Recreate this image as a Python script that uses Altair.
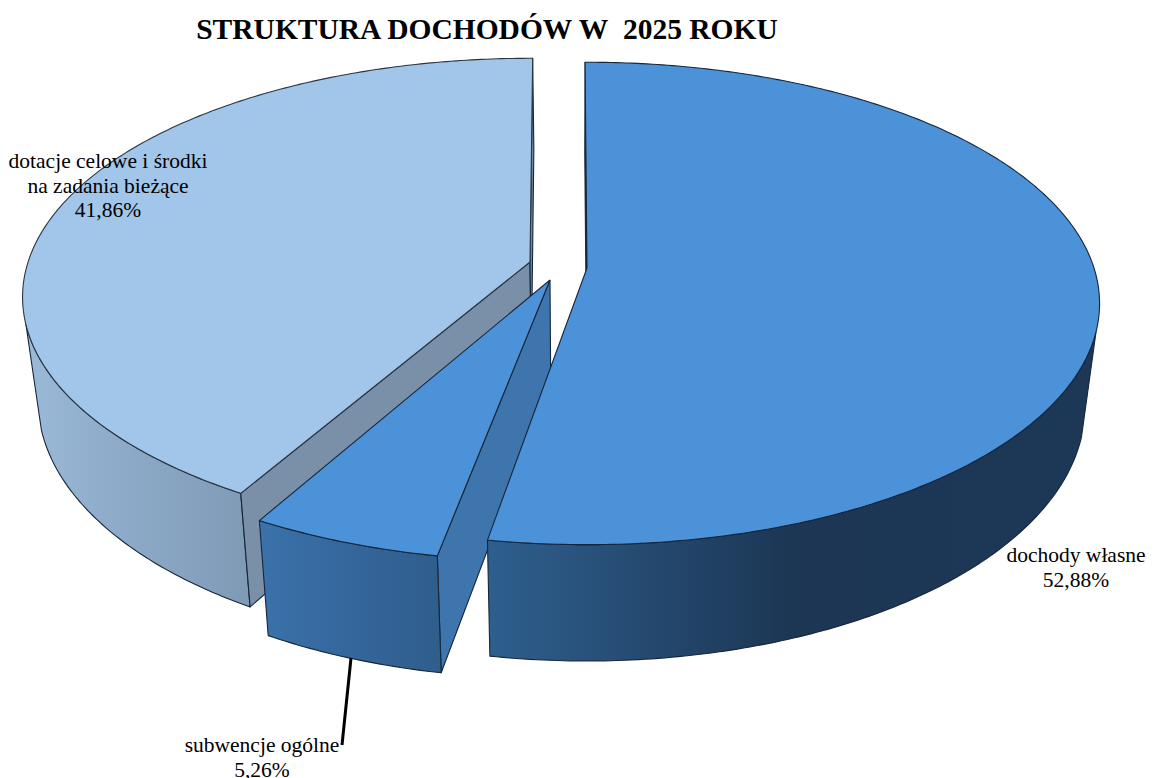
import numpy as np
import pandas as pd
import altair as alt

# data
categories = ["dochody własne", "subwencje ogólne", "dotacje celowe i środki\nna zadania bieżące"]
shares = [52.88, 5.26, 41.86]
share_labels = ["52,88%", "5,26%", "41,86%"]
title_text = "STRUKTURA DOCHODÓW W\u00a0\u00a02025 ROKU"

# view geometry of the tilted disc
A, B, K = 507.0, 236.0, 0.147
SCALE, VX = 0.972, 575.0

cum = np.cumsum([0] + shares) * 3.6
a_main = (cum[0] - 0.25, cum[1] - 0.7)
a_small = (cum[1], cum[2])
a_left = (cum[2] + 0.9, cum[3] + 0.35)


def top(c, a, k=1.0):
    r = np.radians(a)
    u, v = np.sin(r), -np.cos(r)
    s = k / (1 - K * v)
    return c[0] + A * u * s, c[1] + B * v * s


def down(p):
    return VX + (p[0] - VX) * SCALE, p[1] + 88 + 0.052 * p[1]


def arc(c, a0, a1, k=1.0):
    return [top(c, a, k) for a in np.linspace(a0, a1, max(int(abs(a1 - a0) * 1.5), 8))]


def poly(points, fill, stroke="#16263a", sw=1.1):
    pts = list(points) + [points[0]]
    df = pd.DataFrame({"x": [p[0] for p in pts], "y": [p[1] for p in pts], "i": range(len(pts))})
    return alt.Chart(df).mark_line(fill=fill, stroke=stroke, strokeWidth=sw, strokeJoin="round", clip=False).encode(
        x=alt.X("x:Q", scale=alt.Scale(domain=[8, 1146], nice=False, zero=False), axis=None),
        y=alt.Y("y:Q", scale=alt.Scale(domain=[778, 8], nice=False, zero=False), axis=None),
        order=alt.Order("i:Q"),
    )


def grad(stops):
    return alt.Gradient(
        gradient="linear", x1=0, x2=1, y1=0, y2=0,
        stops=[alt.GradientStop(offset=o, color=c) for o, c in stops],
    )


def wall(c, a0, a1, k=1.0):
    t = arc(c, a0, a1, k)
    b = [down(p) for p in t]
    return t + b[::-1]


c_main = (587.0, 268.0)
c_left = (530.0, 262.0)
c_small = (544.0, 284.5)
apex_small = (550.0, 280.0)
k_left = 0.99

layers = []
# left slice (dotacje)
left_side = wall(c_left, a_left[0], 255.0, k_left)
layers.append(poly(left_side, grad([(0, "#9ABAD8"), (0.5, "#8BA8C6"), (1, "#7F9AB5")])))
e0 = top(c_left, a_left[0], k_left)
layers.append(poly([c_left, down(c_left), down(e0), e0], "#7A8FA8"))
e1 = top(c_left, a_left[1], k_left)
layers.append(poly([c_left, down(c_left), down(e1), e1], "#6F88A5"))
layers.append(poly([c_left] + arc(c_left, *a_left, k_left), "#A2C6E9", stroke="#2a3644"))

# small slice (subwencje)
s0 = top(c_small, a_small[0])
layers.append(poly([apex_small, down(apex_small), down(s0), s0], "#3E75AD"))
layers.append(poly(wall(c_small, *a_small), grad([(0, "#3A72AA"), (0.55, "#34659A"), (1, "#2F5E8C")])))
layers.append(poly([apex_small] + arc(c_small, *a_small), "#4C92D8"))

# main slice (dochody)
m0 = top(c_main, a_main[0])
layers.append(poly([c_main, down(c_main), down(m0), m0], "#1C3654"))
layers.append(poly(wall(c_main, 105.0, a_main[1]), grad([(0, "#2E5F8E"), (0.5, "#1C3654"), (1, "#1D3757")])))
layers.append(poly([c_main] + arc(c_main, *a_main), "#4C92D8"))


def text(x, y, s, **kw):
    return alt.Chart(pd.DataFrame({"t": [s]})).mark_text(
        font="Liberation Serif", color="#000000", align="center", baseline="alphabetic",
        lineBreak="\n", lineHeight=24.5, **kw
    ).encode(x=alt.value(x - 8), y=alt.value(y - 8), text="t:N")


leader = alt.Chart(pd.DataFrame({"a": [0]})).mark_rule(color="#000000", strokeWidth=3).encode(
    x=alt.value(351 - 8), x2=alt.value(342 - 8), y=alt.value(658 - 8), y2=alt.value(745 - 8)
)

layers += [
    leader,
    text(487, 39, title_text, fontSize=29.5, fontWeight="bold"),
    text(108, 168, categories[2] + "\n" + share_labels[2], fontSize=21.5),
    text(1076, 562, categories[0] + "\n" + share_labels[0], fontSize=21.5),
    text(262, 752, categories[1] + "\n" + share_labels[1], fontSize=21.5),
]

chart = alt.layer(*layers).properties(
    width=1138, height=770, padding=0, autosize=alt.AutoSizeParams(type="none")
).configure_view(stroke=None)

chart.save("out.html", embed_options={"renderer": "svg", "actions": False})
